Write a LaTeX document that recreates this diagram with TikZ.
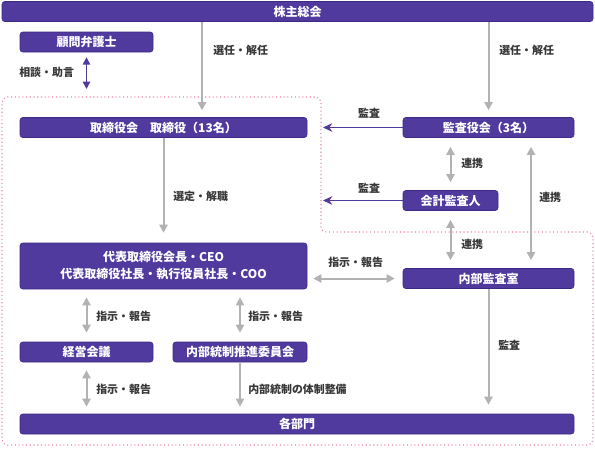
\documentclass[tikz,border=0pt]{standalone}
\usepackage{fontspec}
\setmainfont{Noto Sans CJK JP}
\usepackage{xcolor}
\usetikzlibrary{arrows.meta}

\definecolor{boxpurple}{RGB}{80,58,158}
\definecolor{boxedge}{RGB}{62,42,132}
\definecolor{arrowgray}{RGB}{178,178,178}
\definecolor{labelgray}{RGB}{55,55,55}
\definecolor{dotpink}{RGB}{240,130,170}

\begin{document}
\begin{tikzpicture}[x=0.75pt,y=0.75pt,yscale=-1,xscale=1,
        box/.style={draw=boxedge, fill=boxpurple, rounded corners=2pt, text=white, inner sep=0pt,
                    font=\bfseries\fontsize{9}{12.75}\selectfont, minimum height=15pt},
        lbl/.style={text=labelgray, inner sep=0.75pt, font=\bfseries\fontsize{8.2}{10}\selectfont},
        garrow/.style={draw=arrowgray, line width=1.5pt, -{Triangle[length=6pt,width=6pt]}},
        gboth/.style={draw=arrowgray, line width=1.5pt, {Triangle[length=6pt,width=6pt]}-{Triangle[length=6pt,width=6pt]}},
        parrow/.style={draw=boxpurple, line width=1.1pt, -{Stealth[length=7pt,width=6.5pt]}},
        pboth/.style={draw=boxpurple, line width=1.1pt, {Triangle[length=5.5pt,width=5.5pt]}-{Triangle[length=5.5pt,width=5.5pt]}},
        pinkdot/.style={draw=dotpink, line width=0.8pt, dotted, rounded corners=4pt}]
        \useasboundingbox (0,0) rectangle (595,451);

        % region drawn by dots
        \draw [pinkdot] (2,97) -- (321,97) -- (321,232) -- (593,232) -- (593,445) -- (2,445) -- cycle;

        % boxes
        \node [box, minimum width=443.25pt] (soukai) at (297.5,11.5) {株主総会};
        \node [box, minimum width=99.75pt] (komon) at (86.5,42) {顧問弁護士};
        \node [box, minimum width=215.25pt] (torikai) at (163.5,127.5) {取締役会　取締役（13名）};
        \node [box, minimum width=128.25pt] (kansa) at (488.5,127.5) {監査役会（3名）};
        \node [box, minimum width=71.25pt] (kaikei) at (450.5,200.5) {会計監査人};
        \node [box, minimum width=215.25pt, minimum height=34.5pt, align=center] (daihyo) at (163.5,266)
              {代表取締役会長・CEO\\代表取締役社長・執行役員社長・COO};
        \node [box, minimum width=128.25pt] (naibu) at (488.5,278.5) {内部監査室};
        \node [box, minimum width=99.75pt] (keiei) at (86.5,352) {経営会議};
        \node [box, minimum width=100.5pt] (tousei) at (240,352) {内部統制推進委員会};
        \node [box, minimum width=415.5pt] (kakubu) at (297,424) {各部門};

        % free ends
        \coordinate (selL) at (202,0);
        \coordinate (regtop) at (0,97);
        \coordinate (audtip) at (323,0);
        \coordinate (renR) at (531,0);

        % connectors
        \draw [garrow, shorten >=5.25pt] (soukai.south -| selL) -- (torikai.north -| selL);
        \draw [garrow, shorten >=5.25pt] (soukai.south -| kansa) -- (kansa.north);
        \draw [pboth, shorten <=3.75pt, shorten >=6pt] (komon.south) -- (komon.south |- regtop);
        \draw [parrow] (kansa.west) -- (kansa.west -| audtip);
        \draw [parrow] (kaikei.west) -- (kaikei.west -| audtip);
        \draw [gboth, shorten <=6.75pt, shorten >=6pt] (kansa.south -| kaikei) -- (kaikei.north);
        \draw [gboth, shorten <=6.75pt, shorten >=6pt] (kansa.south -| renR) -- (naibu.north -| renR);
        \draw [gboth, shorten <=6.75pt, shorten >=6pt] (kaikei.south) -- (naibu.north -| kaikei);
        \draw [garrow, shorten >=7.5pt] (torikai.south) -- (daihyo.north);
        \draw [gboth, shorten <=4.5pt, shorten >=6pt] (daihyo.east |- naibu) -- (naibu.west);
        \draw [gboth, shorten <=6pt, shorten >=6.75pt] (daihyo.south -| keiei) -- (keiei.north);
        \draw [gboth, shorten <=6pt, shorten >=6.75pt] (daihyo.south -| tousei) -- (tousei.north);
        \draw [gboth, shorten <=6pt, shorten >=5.25pt] (keiei.south) -- (kakubu.north -| keiei);
        \draw [garrow, shorten >=5.25pt] (tousei.south) -- (kakubu.north -| tousei);
        \draw [garrow, shorten >=6.75pt] (naibu.south) -- (kakubu.north -| naibu);

        % labels
        \node [lbl, anchor=west] (l-soudan) at (18,72) {相談・助言};
        \node [lbl, anchor=west] (l-senL) at (212,50) {選任・解任};
        \node [lbl, anchor=west] (l-senR) at (498,50) {選任・解任};
        \node [lbl] (l-kansa1) at (369,113) {監査};
        \node [lbl] (l-kansa2) at (369,188) {監査};
        \node [lbl, anchor=west] (l-ren1) at (460,163) {連携};
        \node [lbl, anchor=west] (l-ren2) at (538,197) {連携};
        \node [lbl, anchor=west] (l-ren3) at (460,244) {連携};
        \node [lbl, anchor=west] (l-sentei) at (172,196) {選定・解職};
        \node [lbl, anchor=west] (l-shiji1) at (327,262) {指示・報告};
        \node [lbl, anchor=west] (l-kansa3) at (497,345) {監査};
        \node [lbl, anchor=west] (l-shiji2) at (95,316) {指示・報告};
        \node [lbl, anchor=west] (l-shiji3) at (247,316) {指示・報告};
        \node [lbl, anchor=west] (l-shiji4) at (95,389) {指示・報告};
        \node [lbl, anchor=west] (l-seibi) at (247,389) {内部統制の体制整備};
\end{tikzpicture}
\end{document}
